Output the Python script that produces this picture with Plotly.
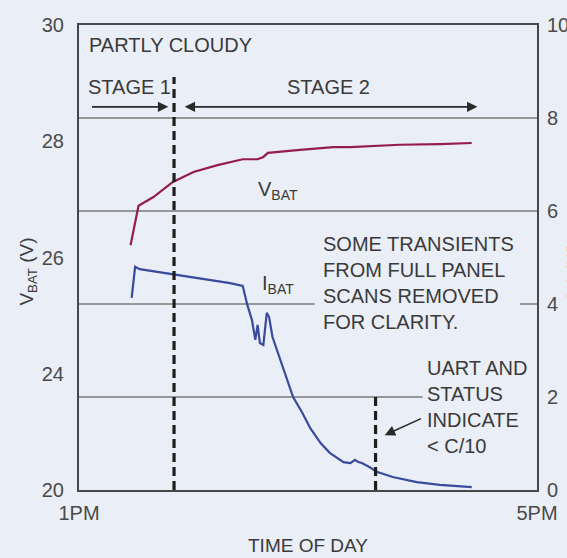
import plotly.graph_objects as go

# Battery voltage during charge (time in hours, 13 = 1PM)
vbat_time = [13.45, 13.52, 13.65, 13.82, 14.00, 14.21, 14.43, 14.56, 14.61, 14.65,
             14.93, 15.22, 15.37, 15.80, 16.15, 16.43]
vbat_volts = [26.21, 26.89, 27.04, 27.30, 27.47, 27.59, 27.69, 27.69, 27.73, 27.80,
              27.85, 27.90, 27.90, 27.94, 27.95, 27.97]

# Battery charge current (A)
ibat_time = [13.46, 13.49, 13.53, 13.81, 14.08, 14.32, 14.43, 14.47, 14.49, 14.51,
             14.54, 14.56, 14.58, 14.61, 14.64, 14.66, 14.69, 14.76, 14.82, 14.87,
             14.95, 15.02, 15.11, 15.19, 15.31, 15.37, 15.41, 15.44, 15.47, 15.54,
             15.60, 15.74, 15.95, 16.15, 16.43]
ibat_amps = [4.13, 4.80, 4.75, 4.65, 4.54, 4.45, 4.39, 3.98, 3.83, 3.66,
             3.23, 3.55, 3.16, 3.12, 3.81, 3.72, 3.29, 2.80, 2.37, 2.00,
             1.66, 1.33, 1.01, 0.80, 0.60, 0.58, 0.65, 0.60, 0.58, 0.49,
             0.39, 0.28, 0.17, 0.11, 0.06]

# Axis ticks
x_ticks = [13, 17]
x_tick_text = ["1PM", "5PM"]
v_ticks = [22, 24, 26, 28, 30]
v_tick_text = ["20", "24", "26", "28", "30"]
i_ticks = [0, 2, 4, 6, 8, 10]
i_tick_text = ["0", "2", "4", "6", "8", "10"]

# Stage boundary and C/10 indication times
stage_boundary = 13.83
c10_time = 15.59

FONT = "Liberation Sans, Arial, sans-serif"
TXT = "#3a3a3a"
BG = "#eaeef6"
FRAME = "#474747"
GRID = "#7a7a7a"

fig = go.Figure()

fig.add_trace(go.Scatter(x=vbat_time, y=vbat_volts, mode="lines",
                         line=dict(color="#951d4c", width=2.2), yaxis="y",
                         showlegend=False, hoverinfo="skip"))
fig.add_trace(go.Scatter(x=ibat_time, y=ibat_amps, mode="lines",
                         line=dict(color="#3a4a9c", width=2.2), yaxis="y2",
                         showlegend=False, hoverinfo="skip"))

shapes = []
# Horizontal grid lines on the current axis
for y0, x0, x1 in [(8, 13, 17), (6, 13, 17), (4, 13, 15.06), (4, 16.85, 17), (2, 13, 16.0)]:
    shapes.append(dict(type="line", xref="x", yref="y2", x0=x0, x1=x1, y0=y0, y1=y0,
                       line=dict(color=GRID, width=1.5), layer="below"))
# Dashed markers
shapes.append(dict(type="line", xref="x", yref="y2", x0=stage_boundary, x1=stage_boundary,
                   y0=0, y1=8.88, line=dict(color="#1e1e1e", width=3.2, dash="9px,5px")))
shapes.append(dict(type="line", xref="x", yref="y2", x0=c10_time, x1=c10_time,
                   y0=0, y1=2.0, line=dict(color="#1e1e1e", width=3.2, dash="9px,5px")))

ann = []
def text(x, y, s, size=20, anchor="left", yanchor="middle", ref="y2", **kw):
    ann.append(dict(x=x, y=y, xref="x", yref=ref, text=s, showarrow=False,
                    xanchor=anchor, yanchor=yanchor,
                    font=dict(family=FONT, size=size, color=TXT), align="left", **kw))

text(13.07, 9.57, "PARTLY CLOUDY")
text(13.06, 8.66, "STAGE 1")
text(14.80, 8.66, "STAGE 2")
text(14.55, 6.45, "V<sub>BAT</sub>")
text(14.58, 4.42, "I<sub>BAT</sub>")
text(15.11, 4.45, "SOME TRANSIENTS<br>FROM FULL PANEL<br>SCANS REMOVED<br>FOR CLARITY.")
text(16.02, 1.78, "UART AND<br>STATUS<br>INDICATE<br>&lt; C/10")

# Arrows
ann.append(dict(x=13.78, y=8.24, ax=13.10, ay=8.24, xref="x", yref="y2", axref="x", ayref="y2",
                text="", showarrow=True, arrowhead=2, arrowsize=1.3, arrowwidth=1.6,
                arrowcolor="#2a2a2a"))
ann.append(dict(x=16.48, y=8.24, ax=13.91, ay=8.24, xref="x", yref="y2", axref="x", ayref="y2",
                text="", showarrow=True, arrowhead=2, startarrowhead=2, arrowside="end+start",
                arrowsize=1.3, startarrowsize=1.3, arrowwidth=1.6, arrowcolor="#2a2a2a"))
ann.append(dict(x=15.67, y=1.18, ax=16.0, ay=1.55, xref="x", yref="y2", axref="x", ayref="y2",
                text="", showarrow=True, arrowhead=2, arrowsize=1.3, arrowwidth=1.6,
                arrowcolor="#2a2a2a"))

# Axis titles (the current-axis title runs off the right edge of the page)
ann.append(dict(x=-0.111, y=0.47, xref="paper", yref="paper", text="V<sub>BAT</sub> (V)",
                textangle=-90, showarrow=False, xanchor="center", yanchor="middle",
                font=dict(family=FONT, size=19, color=TXT)))
ann.append(dict(x=1.085, y=0.47, xref="paper", yref="paper", text="I<sub>BAT</sub> (A)",
                textangle=90, showarrow=False, xanchor="center", yanchor="middle",
                font=dict(family=FONT, size=19, color=TXT)))
ann.append(dict(x=0.5, y=-0.12, xref="paper", yref="paper", text="TIME OF DAY",
                showarrow=False, xanchor="center", yanchor="middle",
                font=dict(family=FONT, size=19, color=TXT)))

fig.update_layout(
    width=567, height=558,
    margin=dict(l=79, r=30, t=25, b=68, autoexpand=False),
    paper_bgcolor=BG, plot_bgcolor=BG,
    font=dict(family=FONT, size=20, color=TXT),
    shapes=shapes, annotations=ann,
    xaxis=dict(range=[13, 17], tickvals=x_ticks, ticktext=x_tick_text, showgrid=False,
               zeroline=False, showline=True, mirror=True, linecolor=FRAME, linewidth=2,
               ticks="", ticklabelstandoff=4, automargin=False,
               tickfont=dict(size=20, color="#4a4a4a")),
    yaxis=dict(range=[22, 30], tickvals=v_ticks, ticktext=v_tick_text, showgrid=False,
               zeroline=False, showline=True, mirror=True, linecolor=FRAME, linewidth=2,
               ticks="", ticklabelstandoff=9, automargin=False,
               tickfont=dict(size=20, color="#4a4a4a")),
    yaxis2=dict(range=[0, 10], tickvals=i_ticks, ticktext=i_tick_text, overlaying="y",
                side="right", showgrid=False, zeroline=False, showline=False,
                ticks="", ticklabelstandoff=9, automargin=False,
                tickfont=dict(size=20, color="#4a4a4a")),
)

fig.write_html("out.html")
